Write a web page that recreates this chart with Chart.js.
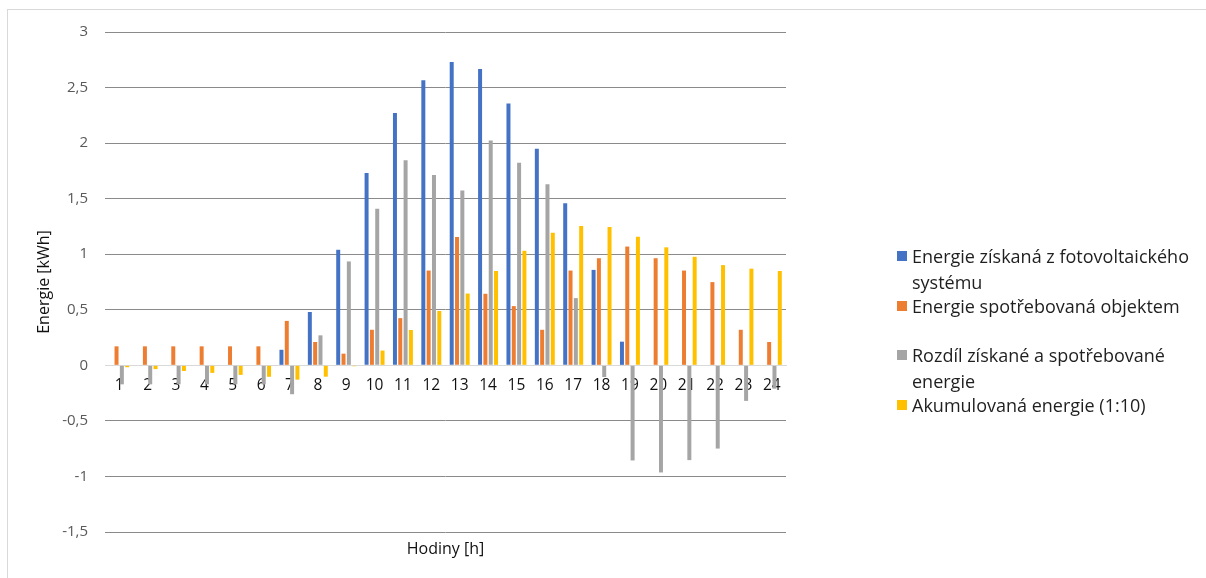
<!DOCTYPE html>
<html lang="cs">
<head>
<meta charset="utf-8">
<title>Energie během dne</title>
<script src="https://cdn.jsdelivr.net/npm/chart.js@4.4.1/dist/chart.umd.min.js"></script>
<style>
  html, body { margin: 0; padding: 0; background: #fff; }
  #wrap { position: relative; width: 1206px; height: 578px; overflow: hidden; font-family: "Open Sans", Lato, sans-serif; }
  #frame { position: absolute; left: 7px; top: 9px; right: -2px; bottom: -2px; border-left: 1px solid #d9d9d9; border-top: 1px solid #d9d9d9; pointer-events: none; }
  #chart { position: absolute; left: 0; top: 0; }
  #legend { position: absolute; left: 897px; top: 243px; width: 314px; color: #1f1f1f; font-size: 18px; line-height: 26px; }
  .item { position: relative; height: 49.5px; padding-left: 15px; }
  .swatch { position: absolute; left: 0; top: 8px; width: 10px; height: 10px; }
</style>
</head>
<body>
<div id="wrap">
  <canvas id="chart" width="1206" height="578"></canvas>
  <div id="legend"></div>
  <div id="frame"></div>
</div>
<script>
// Hodiny dne
const hours = ['1','2','3','4','5','6','7','8','9','10','11','12','13','14','15','16','17','18','19','20','21','22','23','24'];

// Energie získaná z fotovoltaického systému [kWh]
const generated = [0, 0, 0, 0, 0, 0, 0.14, 0.48, 1.04, 1.73, 2.27, 2.565, 2.73, 2.668, 2.356, 1.949, 1.458, 0.859, 0.213, 0, 0, 0, 0, 0];

// Energie spotřebovaná objektem [kWh]
const consumed = [0.171, 0.171, 0.171, 0.171, 0.171, 0.171, 0.40, 0.21, 0.105, 0.32, 0.425, 0.853, 1.156, 0.644, 0.533, 0.32, 0.853, 0.964, 1.069, 0.964, 0.853, 0.749, 0.32, 0.21];

// Rozdíl získané a spotřebované energie [kWh]
const difference = [-0.171, -0.171, -0.171, -0.171, -0.171, -0.171, -0.26, 0.27, 0.935, 1.41, 1.845, 1.712, 1.574, 2.024, 1.823, 1.629, 0.605, -0.105, -0.856, -0.964, -0.853, -0.749, -0.32, -0.21];

// Akumulovaná energie v měřítku 1:10 [kWh]
const accumulated = [-0.017, -0.034, -0.051, -0.068, -0.086, -0.103, -0.129, -0.102, -0.008, 0.133, 0.318, 0.489, 0.646, 0.849, 1.031, 1.194, 1.254, 1.244, 1.158, 1.062, 0.977, 0.902, 0.870, 0.849];

const seriesNames = [
  'Energie získaná z fotovoltaického systému',
  'Energie spotřebovaná objektem',
  'Rozdíl získané a spotřebované energie',
  'Akumulovaná energie (1:10)'
];
const seriesColors = ['#4472C4', '#ED7D31', '#A5A5A5', '#FFC000'];
const seriesValues = [generated, consumed, difference, accumulated];

const yMin = -1.5, yMax = 3, yStep = 0.5;
const FONT = '"Open Sans", Lato, sans-serif';

const datasets = seriesNames.map((name, i) => ({
  label: name,
  data: seriesValues[i],
  backgroundColor: seriesColors[i],
  borderWidth: 0,
  categoryPercentage: 0.75,
  barPercentage: 0.75
}));

const chart = new Chart(document.getElementById('chart'), {
  type: 'bar',
  data: { labels: hours, datasets },
  options: {
    responsive: false,
    animation: false,
    devicePixelRatio: 1,
    layout: { padding: { left: 0, top: 32, right: 420, bottom: 0 } },
    plugins: {
      legend: { display: false },
      tooltip: { enabled: false }
    },
    scales: {
      x: {
        type: 'category',
        position: { y: 0 },
        grid: { display: false, drawTicks: false },
        border: { display: true, color: '#d9d9d9', width: 1 },
        ticks: {
          color: '#111',
          font: { family: FONT, size: 15.5 },
          padding: 11,
          maxRotation: 0,
          autoSkip: false
        }
      },
      xTitle: {
        type: 'category',
        position: 'bottom',
        labels: hours,
        grid: { display: false, drawTicks: false },
        border: { display: false },
        ticks: { display: false },
        title: {
          display: true,
          text: 'Hodiny [h]',
          color: '#111',
          font: { family: FONT, size: 16 },
          padding: { top: 0, bottom: 19 }
        },
        afterFit(scale) { scale.height = 46; }
      },
      y: {
        min: yMin,
        max: yMax,
        border: { display: false },
        grid: {
          drawTicks: false,
          color: ctx => (ctx.tick && ctx.tick.value === 0) ? '#d9d9d9' : '#8a8a8a',
          lineWidth: 1
        },
        ticks: {
          stepSize: yStep,
          padding: 17,
          color: '#595959',
          font: { family: FONT, size: 15 },
          callback: v => String(v).replace('.', ',')
        },
        title: {
          display: true,
          text: 'Energie [kWh]',
          color: '#111',
          font: { family: FONT, size: 16 },
          padding: { top: 35, bottom: 0 }
        },
        afterFit(scale) { scale.width = 105; }
      }
    }
  }
});

// Legenda vpravo od grafu
const legend = document.getElementById('legend');
chart.data.datasets.forEach(ds => {
  const item = document.createElement('div');
  item.className = 'item';
  const sw = document.createElement('span');
  sw.className = 'swatch';
  sw.style.background = ds.backgroundColor;
  item.appendChild(sw);
  item.appendChild(document.createTextNode(ds.label));
  legend.appendChild(item);
});
</script>
</body>
</html>
